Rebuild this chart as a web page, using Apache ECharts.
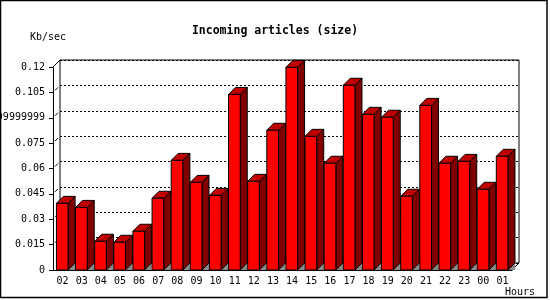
<!DOCTYPE html>
<html>
<head>
<meta charset="utf-8">
<script src="https://cdn.jsdelivr.net/npm/echarts@6/dist/echarts.min.js"></script>
<style>
  html, body { margin: 0; padding: 0; background: #fff; }
  #chart { width: 550px; height: 300px; }
</style>
</head>
<body>
<div id="chart"></div>
<script>
// data
var hours = ['02', '03', '04', '05', '06', '07', '08', '09', '10', '11', '12', '13',
             '14', '15', '16', '17', '18', '19', '20', '21', '22', '23', '00', '01'];
var kbps = [0.0394, 0.0370, 0.0170, 0.0164, 0.0229, 0.0424, 0.0648, 0.0518, 0.0441, 0.1038, 0.0524, 0.0826,
            0.1198, 0.0790, 0.0631, 0.1092, 0.0920, 0.0903, 0.0436, 0.0973, 0.0631, 0.0642, 0.0477, 0.0672];
var yTickLabels = ['0', '0.015', '0.03', '0.045', '0.06', '0.075', '0.08999999999', '0.105', '0.12'];

// 3d look
var DEPTH = 7;
var FONT = 'DejaVu Sans Mono';
var front = { left: 53, top: 67, width: 459, height: 203 };

var chart = echarts.init(document.getElementById('chart'));

function renderBar(params, api) {
    var i = api.value(0), v = api.value(1);
    var p0 = api.coord([i, 0]);
    var p1 = api.coord([i, v]);
    var band = api.size([1, 0])[0];
    var w = band * 0.61;
    var xl = p0[0] - w / 2 - 0.3, xr = xl + w;
    var d = DEPTH;
    var line = { stroke: '#000', lineWidth: 1 };
    return {
        type: 'group',
        children: [
            { type: 'polygon', shape: { points: [[xr, p0[1]], [xr + d, p0[1] - d], [xr + d, p0[1]]] },
              style: { fill: '#8a8a8a' } },
            { type: 'polygon', shape: { points: [[xr, p1[1]], [xr + d, p1[1] - d], [xr + d, p0[1] - d], [xr, p0[1]]] },
              style: Object.assign({ fill: '#800000' }, line) },
            { type: 'polygon', shape: { points: [[xl, p1[1]], [xl + d, p1[1] - d], [xr + d, p1[1] - d], [xr, p1[1]]] },
              style: Object.assign({ fill: '#c00000' }, line) },
            { type: 'rect', shape: { x: xl, y: p1[1], width: w, height: p0[1] - p1[1] },
              style: Object.assign({ fill: '#ff0000' }, line) }
        ]
    };
}

// short diagonal marks on the left side wall at each tick
var sideMarks = yTickLabels.slice(1, -1).map(function (t, k) {
    var y = front.top + front.height - (k + 1) * front.height / (yTickLabels.length - 1);
    return { type: 'line', shape: { x1: front.left + 2, y1: y - 2, x2: front.left + 5, y2: y - 5 },
             style: { stroke: '#000', lineWidth: 1 }, z: 1 };
});

var option = {
    backgroundColor: '#fff',
    animation: false,
    title: {
        text: 'Incoming articles (size)',
        left: 'center',
        top: 20,
        textStyle: { fontFamily: FONT, fontSize: 11.5, fontWeight: 'bold', color: '#000' }
    },
    grid: [
        // front plane (axes)
        { left: front.left, top: front.top, width: front.width, height: front.height,
          outerBoundsMode: 'none', containLabel: false },
        // back wall
        { left: front.left + DEPTH, top: front.top - DEPTH, width: front.width, height: front.height,
          outerBoundsMode: 'none', containLabel: false,
          show: true, borderColor: '#000', borderWidth: 1, backgroundColor: 'transparent' }
    ],
    xAxis: [
        {
            gridIndex: 0,
            type: 'category',
            data: hours,
            axisLine: { lineStyle: { color: '#000', width: 1 } },
            axisTick: { length: 5, lineStyle: { color: '#000' } },
            axisLabel: { color: '#000', fontFamily: FONT, fontSize: 10, margin: 6 }
        },
        { gridIndex: 1, type: 'value', show: false }
    ],
    yAxis: [
        {
            gridIndex: 0,
            type: 'value',
            min: 0, max: 0.12, interval: 0.015,
            axisLine: { show: true, lineStyle: { color: '#000', width: 1 } },
            axisTick: { show: true, length: 4, lineStyle: { color: '#000' } },
            splitLine: { show: false },
            axisLabel: {
                color: '#000', fontFamily: FONT, fontSize: 10, margin: 8,
                formatter: function (val) { return yTickLabels[Math.round(val / 0.015)]; }
            }
        },
        {
            gridIndex: 1,
            type: 'value',
            min: 0, max: 0.12, interval: 0.015,
            axisLine: { show: false },
            axisTick: { show: false },
            axisLabel: { show: false },
            splitLine: { show: true, lineStyle: { color: '#000', width: 1, type: [2, 2] } }
        }
    ],
    series: [
        {
            type: 'custom',
            xAxisIndex: 0,
            yAxisIndex: 0,
            renderItem: renderBar,
            encode: { x: 0, y: 1 },
            data: hours.map(function (h, i) { return [i, kbps[i]]; }),
            z: 5
        }
    ],
    graphic: [
        { type: 'rect', shape: { x: 0.5, y: 0.5, width: 546.5, height: 297 },
          style: { fill: null, stroke: '#000', lineWidth: 1.5 }, z: 10 },
        { type: 'text', left: 30, top: 32,
          style: { text: 'Kb/sec', font: '10px "DejaVu Sans Mono"', fill: '#000' } },
        { type: 'text', left: 505, top: 287,
          style: { text: 'Hours', font: '10px "DejaVu Sans Mono"', fill: '#000' } },
        // frame edges joining front axes and back wall
        { type: 'polyline', shape: { points: [[front.left, front.top], [front.left + DEPTH, front.top - DEPTH]] },
          style: { stroke: '#000', lineWidth: 1 }, z: 1 },
        { type: 'polyline', shape: { points: [[front.left + front.width, front.top + front.height],
                                              [front.left + front.width + DEPTH, front.top + front.height - DEPTH]] },
          style: { stroke: '#000', lineWidth: 1 }, z: 1 }
    ].concat(sideMarks)
};

chart.setOption(option);
</script>
</body>
</html>
